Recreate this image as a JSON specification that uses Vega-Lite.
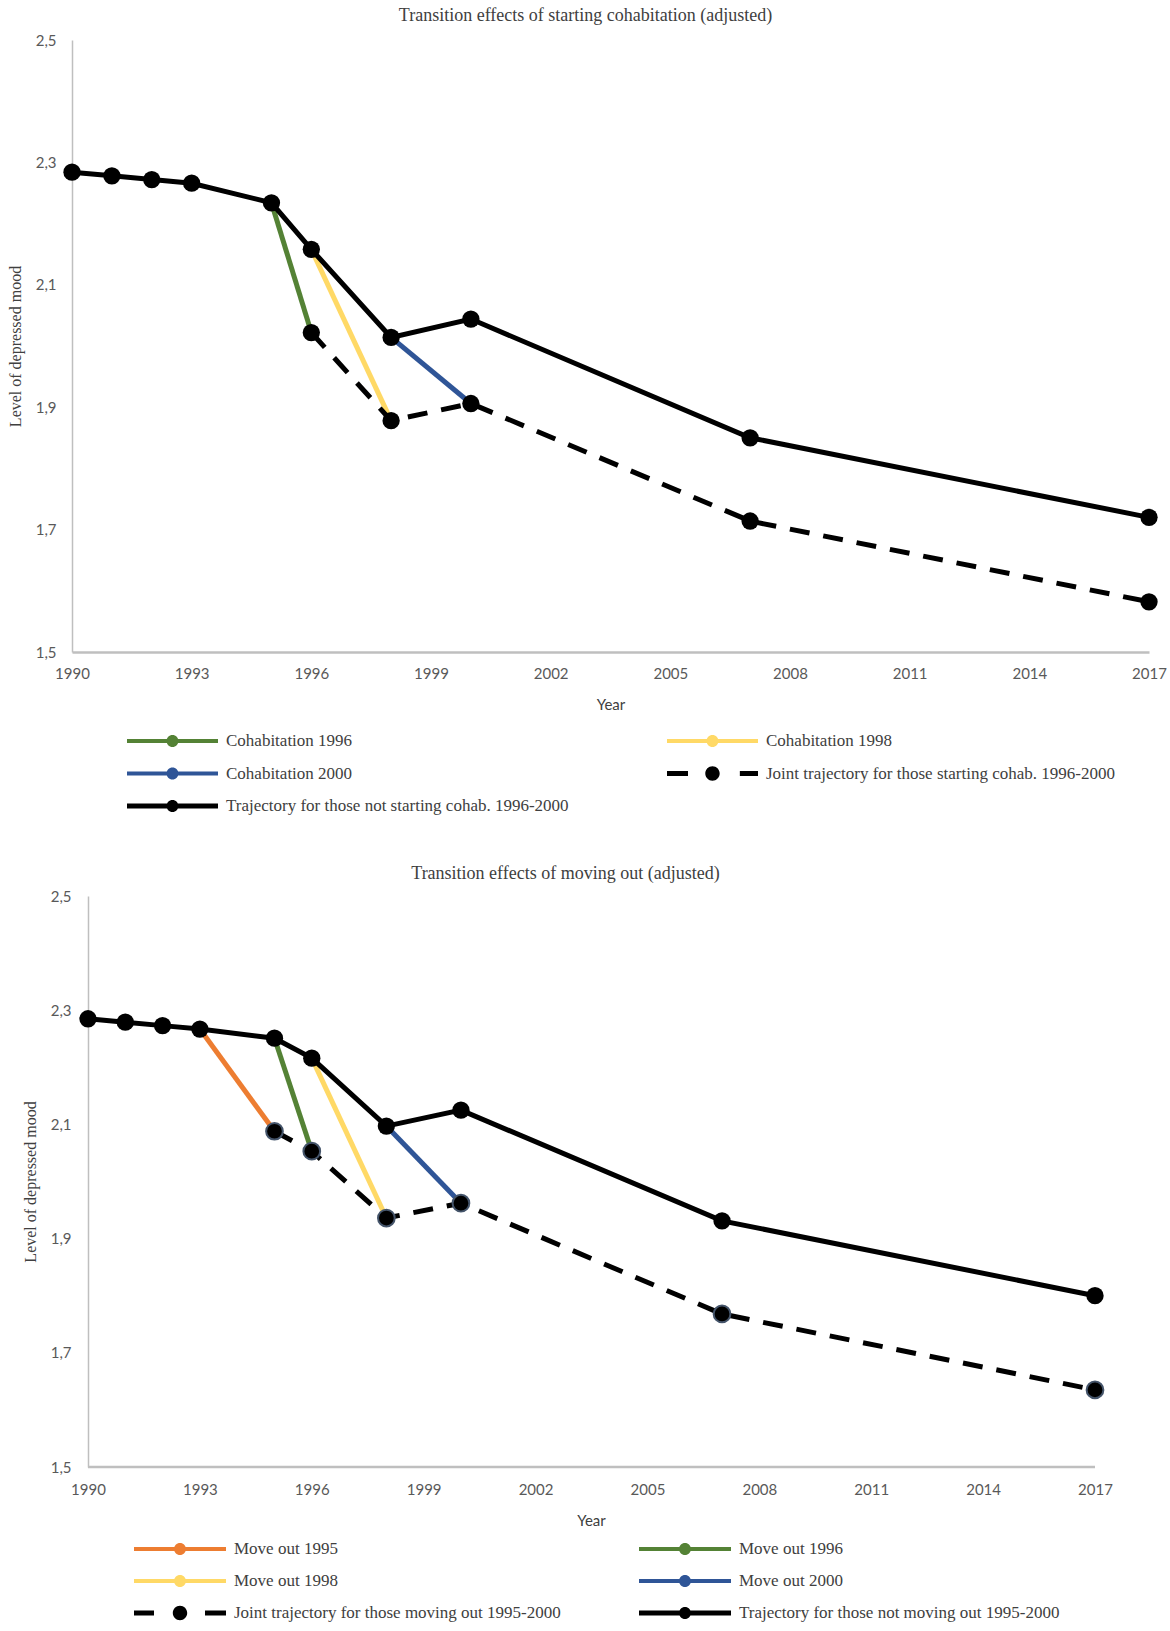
{
  "$schema": "https://vega.github.io/schema/vega-lite/v6.json",
  "padding": {"left": 7, "top": 7, "right": 0, "bottom": 5},
  "background": "white",
  "spacing": 51,
  "resolve": {
    "scale": {"stroke": "independent", "fill": "independent", "shape": "independent", "x": "independent", "y": "independent"},
    "legend": {"fill": "independent", "shape": "independent"}
  },
  "config": {
    "view": {"stroke": null},
    "axis": {
      "grid": false,
      "ticks": false,
      "domainColor": "#bfbfbf",
      "labelFont": "Lato",
      "labelFontSize": 15,
      "labelColor": "#595959",
      "labelFlush": false,
      "labelOverlap": false,
      "titleColor": "#404040",
      "titleFontWeight": "normal"
    },
    "legend": {
      "title": null, "orient": "none", "direction": "horizontal", "columns": 2, "padding": 0,
      "symbolOpacity": 1, "symbolStrokeWidth": 0, "symbolSize": 576,
      "labelFont": "Liberation Serif", "labelFontSize": 17, "labelColor": "#404040", "labelLimit": 600
    },
    "title": {"font": "Liberation Serif", "fontSize": 18, "fontWeight": "normal", "color": "#404040"}
  },
  "datasets": {
    "cohab": [
      {"series": "Trajectory for those not starting cohab. 1996-2000", "year": 1990, "value": 2.284},
      {"series": "Trajectory for those not starting cohab. 1996-2000", "year": 1991, "value": 2.278},
      {"series": "Trajectory for those not starting cohab. 1996-2000", "year": 1992, "value": 2.272},
      {"series": "Trajectory for those not starting cohab. 1996-2000", "year": 1993, "value": 2.266},
      {"series": "Trajectory for those not starting cohab. 1996-2000", "year": 1995, "value": 2.234},
      {"series": "Trajectory for those not starting cohab. 1996-2000", "year": 1996, "value": 2.158},
      {"series": "Trajectory for those not starting cohab. 1996-2000", "year": 1998, "value": 2.014},
      {"series": "Trajectory for those not starting cohab. 1996-2000", "year": 2000, "value": 2.044},
      {"series": "Trajectory for those not starting cohab. 1996-2000", "year": 2007, "value": 1.850},
      {"series": "Trajectory for those not starting cohab. 1996-2000", "year": 2017, "value": 1.720},
      {"series": "Joint trajectory for those starting cohab. 1996-2000", "year": 1996, "value": 2.022},
      {"series": "Joint trajectory for those starting cohab. 1996-2000", "year": 1998, "value": 1.878},
      {"series": "Joint trajectory for those starting cohab. 1996-2000", "year": 2000, "value": 1.906},
      {"series": "Joint trajectory for those starting cohab. 1996-2000", "year": 2007, "value": 1.714},
      {"series": "Joint trajectory for those starting cohab. 1996-2000", "year": 2017, "value": 1.582},
      {"series": "Cohabitation 1996", "year": 1995, "value": 2.234},
      {"series": "Cohabitation 1996", "year": 1996, "value": 2.022},
      {"series": "Cohabitation 1998", "year": 1996, "value": 2.158},
      {"series": "Cohabitation 1998", "year": 1998, "value": 1.878},
      {"series": "Cohabitation 2000", "year": 1998, "value": 2.014},
      {"series": "Cohabitation 2000", "year": 2000, "value": 1.906}
    ],
    "move": [
      {"series": "Trajectory for those not moving out 1995-2000", "year": 1990, "value": 2.285},
      {"series": "Trajectory for those not moving out 1995-2000", "year": 1991, "value": 2.279},
      {"series": "Trajectory for those not moving out 1995-2000", "year": 1992, "value": 2.273},
      {"series": "Trajectory for those not moving out 1995-2000", "year": 1993, "value": 2.267},
      {"series": "Trajectory for those not moving out 1995-2000", "year": 1995, "value": 2.251},
      {"series": "Trajectory for those not moving out 1995-2000", "year": 1996, "value": 2.216},
      {"series": "Trajectory for those not moving out 1995-2000", "year": 1998, "value": 2.097},
      {"series": "Trajectory for those not moving out 1995-2000", "year": 2000, "value": 2.125},
      {"series": "Trajectory for those not moving out 1995-2000", "year": 2007, "value": 1.931},
      {"series": "Trajectory for those not moving out 1995-2000", "year": 2017, "value": 1.800},
      {"series": "Joint trajectory for those moving out 1995-2000", "year": 1995, "value": 2.088},
      {"series": "Joint trajectory for those moving out 1995-2000", "year": 1996, "value": 2.053},
      {"series": "Joint trajectory for those moving out 1995-2000", "year": 1998, "value": 1.936},
      {"series": "Joint trajectory for those moving out 1995-2000", "year": 2000, "value": 1.962},
      {"series": "Joint trajectory for those moving out 1995-2000", "year": 2007, "value": 1.768},
      {"series": "Joint trajectory for those moving out 1995-2000", "year": 2017, "value": 1.635},
      {"series": "Move out 1995", "year": 1993, "value": 2.267},
      {"series": "Move out 1995", "year": 1995, "value": 2.088},
      {"series": "Move out 1996", "year": 1995, "value": 2.251},
      {"series": "Move out 1996", "year": 1996, "value": 2.053},
      {"series": "Move out 1998", "year": 1996, "value": 2.216},
      {"series": "Move out 1998", "year": 1998, "value": 1.936},
      {"series": "Move out 2000", "year": 1998, "value": 2.097},
      {"series": "Move out 2000", "year": 2000, "value": 1.962}
    ]
  },
  "vconcat": [
    {
      "title": {"text": "Transition effects of starting cohabitation (adjusted)", "dx": -25, "offset": 8},
      "width": 1077,
      "height": 612,
      "data": {"name": "cohab"},
      "encoding": {
        "x": {
          "field": "year", "type": "quantitative", "title": "Year",
          "scale": {"domain": [1990, 2017], "nice": false, "zero": false},
          "axis": {"values": [1990, 1993, 1996, 1999, 2002, 2005, 2008, 2011, 2014, 2017], "format": "d", "domainWidth": 2.5, "labelPadding": 14, "titlePadding": 16, "titleFont": "Lato", "titleFontSize": 15}
        },
        "y": {
          "field": "value", "type": "quantitative", "title": "Level of depressed mood",
          "scale": {"domain": [1.5, 2.5], "nice": false, "zero": false},
          "axis": {"values": [1.5, 1.7, 1.9, 2.1, 2.3, 2.5], "labelExpr": "replace(format(datum.value, '.1f'), '.', ',')", "domainWidth": 1.5, "labelPadding": 16, "titlePadding": 12, "titleFont": "Liberation Serif", "titleFontSize": 16}
        }
      },
      "layer": [
        {
          "transform": [{"filter": {"field": "series", "oneOf": ["Cohabitation 1996", "Cohabitation 1998", "Cohabitation 2000"]}}],
          "mark": {"type": "line", "strokeWidth": 5},
          "encoding": {
            "stroke": {"field": "series", "type": "nominal", "legend": null,
              "scale": {"domain": ["Cohabitation 1996", "Cohabitation 1998", "Cohabitation 2000"], "range": ["#548235", "#ffd966", "#2f5597"]}}
          }
        },
        {
          "transform": [{"filter": {"field": "series", "equal": "Trajectory for those not starting cohab. 1996-2000"}}],
          "mark": {"type": "line", "strokeWidth": 5, "color": "#000000"},
          "encoding": {}
        },
        {
          "transform": [{"filter": {"field": "series", "equal": "Joint trajectory for those starting cohab. 1996-2000"}}],
          "mark": {"type": "line", "strokeWidth": 5, "color": "#000000", "strokeDash": [20, 14], "strokeCap": "butt"},
          "encoding": {}
        },
        {
          "transform": [{"filter": {"field": "series", "oneOf": ["Joint trajectory for those starting cohab. 1996-2000", "Trajectory for those not starting cohab. 1996-2000"]}}],
          "mark": {"type": "point", "filled": true, "size": 300, "color": "#000000", "opacity": 1},
          "encoding": {}
        },
        {
          "mark": {"type": "point", "filled": true, "opacity": 0},
          "encoding": {
            "fill": {"field": "series", "type": "nominal",
              "scale": {"domain": ["Cohabitation 1996", "Cohabitation 1998", "Cohabitation 2000", "Joint trajectory for those starting cohab. 1996-2000", "Trajectory for those not starting cohab. 1996-2000"], "range": ["#548235", "#ffd966", "#2f5597", "#000000", "#000000"]},
              "legend": {"legendX": 55, "legendY": 689, "columnPadding": 98, "rowPadding": 12.5, "labelOffset": 75}},
            "shape": {"field": "series", "type": "nominal",
              "scale": {"domain": ["Cohabitation 1996", "Cohabitation 1998", "Cohabitation 2000", "Joint trajectory for those starting cohab. 1996-2000", "Trajectory for those not starting cohab. 1996-2000"],
                "range": [
                  "M-1,-0.167H6.583V0.167H-1Z M3.29,0A0.5,0.5 0 1,1 2.29,0A0.5,0.5 0 1,1 3.29,0Z",
                  "M-1,-0.167H6.583V0.167H-1Z M3.29,0A0.5,0.5 0 1,1 2.29,0A0.5,0.5 0 1,1 3.29,0Z",
                  "M-1,-0.167H6.583V0.167H-1Z M3.29,0A0.5,0.5 0 1,1 2.29,0A0.5,0.5 0 1,1 3.29,0Z",
                  "M-1,-0.2H0.75V0.2H-1Z M5.07,-0.2H6.583V0.2H5.07Z M3.39,0A0.6,0.6 0 1,1 2.19,0A0.6,0.6 0 1,1 3.39,0Z",
                  "M-1,-0.2H6.583V0.2H-1Z M3.29,0A0.5,0.5 0 1,1 2.29,0A0.5,0.5 0 1,1 3.29,0Z"
                ]},
              "legend": {"legendX": 55, "legendY": 689, "columnPadding": 98, "rowPadding": 12.5, "labelOffset": 75}}
          }
        }
      ]
    },
    {
      "title": {"text": "Transition effects of moving out (adjusted)", "dx": -18, "offset": 6},
      "width": 1023,
      "height": 571,
      "data": {"name": "move"},
      "encoding": {
        "x": {
          "field": "year", "type": "quantitative", "title": "Year",
          "scale": {"domain": [1989.571, 2017], "nice": false, "zero": false},
          "axis": {"values": [1990, 1993, 1996, 1999, 2002, 2005, 2008, 2011, 2014, 2017], "format": "d", "domain": false, "labelPadding": 15, "titlePadding": 16, "titleFont": "Lato", "titleFontSize": 15, "titleX": 519}
        },
        "y": {
          "field": "value", "type": "quantitative", "title": "Level of depressed mood",
          "scale": {"domain": [1.5, 2.5], "nice": false, "zero": false},
          "axis": {"values": [1.5, 1.7, 1.9, 2.1, 2.3, 2.5], "labelExpr": "replace(format(datum.value, '.1f'), '.', ',')", "offset": -16, "domainWidth": 1.5, "labelPadding": 17, "titlePadding": 12, "titleFont": "Liberation Serif", "titleFontSize": 16}
        }
      },
      "layer": [
        {
          "data": {"values": [{"from": 1990, "to": 2017, "level": 1.5}]},
          "mark": {"type": "rule", "color": "#bfbfbf", "strokeWidth": 2.5},
          "encoding": {
            "x": {"field": "from", "type": "quantitative", "title": "Year"},
            "x2": {"field": "to"},
            "y": {"field": "level", "type": "quantitative", "title": "Level of depressed mood"}
          }
        },
        {
          "transform": [{"filter": {"field": "series", "oneOf": ["Move out 1995", "Move out 1996", "Move out 1998", "Move out 2000"]}}],
          "mark": {"type": "line", "strokeWidth": 5},
          "encoding": {
            "stroke": {"field": "series", "type": "nominal", "legend": null,
              "scale": {"domain": ["Move out 1995", "Move out 1996", "Move out 1998", "Move out 2000"], "range": ["#ed7d31", "#548235", "#ffd966", "#2f5597"]}}
          }
        },
        {
          "transform": [{"filter": {"field": "series", "equal": "Trajectory for those not moving out 1995-2000"}}],
          "mark": {"type": "line", "strokeWidth": 5, "color": "#000000"},
          "encoding": {}
        },
        {
          "transform": [{"filter": {"field": "series", "equal": "Joint trajectory for those moving out 1995-2000"}}],
          "mark": {"type": "line", "strokeWidth": 5, "color": "#000000", "strokeDash": [20, 14], "strokeCap": "butt"},
          "encoding": {}
        },
        {
          "transform": [{"filter": {"field": "series", "equal": "Trajectory for those not moving out 1995-2000"}}],
          "mark": {"type": "point", "filled": true, "size": 300, "color": "#000000", "opacity": 1},
          "encoding": {}
        },
        {
          "transform": [{"filter": {"field": "series", "equal": "Joint trajectory for those moving out 1995-2000"}}],
          "mark": {"type": "point", "filled": true, "size": 280, "fill": "#000000", "stroke": "#44546a", "strokeWidth": 2, "opacity": 1},
          "encoding": {}
        },
        {
          "mark": {"type": "point", "filled": true, "opacity": 0},
          "encoding": {
            "fill": {"field": "series", "type": "nominal",
              "scale": {"domain": ["Move out 1995", "Move out 1996", "Move out 1998", "Move out 2000", "Joint trajectory for those moving out 1995-2000", "Trajectory for those not moving out 1995-2000"], "range": ["#ed7d31", "#548235", "#ffd966", "#2f5597", "#000000", "#000000"]},
              "legend": {"legendX": 62, "legendY": 641, "columnPadding": 78, "rowPadding": 12, "labelOffset": 76}},
            "shape": {"field": "series", "type": "nominal",
              "scale": {"domain": ["Move out 1995", "Move out 1996", "Move out 1998", "Move out 2000", "Joint trajectory for those moving out 1995-2000", "Trajectory for those not moving out 1995-2000"],
                "range": [
                  "M-1,-0.167H6.667V0.167H-1Z M3.333,0A0.5,0.5 0 1,1 2.333,0A0.5,0.5 0 1,1 3.333,0Z",
                  "M-1,-0.167H6.667V0.167H-1Z M3.333,0A0.5,0.5 0 1,1 2.333,0A0.5,0.5 0 1,1 3.333,0Z",
                  "M-1,-0.167H6.667V0.167H-1Z M3.333,0A0.5,0.5 0 1,1 2.333,0A0.5,0.5 0 1,1 3.333,0Z",
                  "M-1,-0.167H6.667V0.167H-1Z M3.333,0A0.5,0.5 0 1,1 2.333,0A0.5,0.5 0 1,1 3.333,0Z",
                  "M-1,-0.2H0.667V0.2H-1Z M4.917,-0.2H6.667V0.2H4.917Z M3.433,0A0.6,0.6 0 1,1 2.233,0A0.6,0.6 0 1,1 3.433,0Z",
                  "M-1,-0.2H6.667V0.2H-1Z M3.333,0A0.5,0.5 0 1,1 2.333,0A0.5,0.5 0 1,1 3.333,0Z"
                ]},
              "legend": {"legendX": 62, "legendY": 641, "columnPadding": 78, "rowPadding": 12, "labelOffset": 76}}
          }
        }
      ]
    }
  ]
}
